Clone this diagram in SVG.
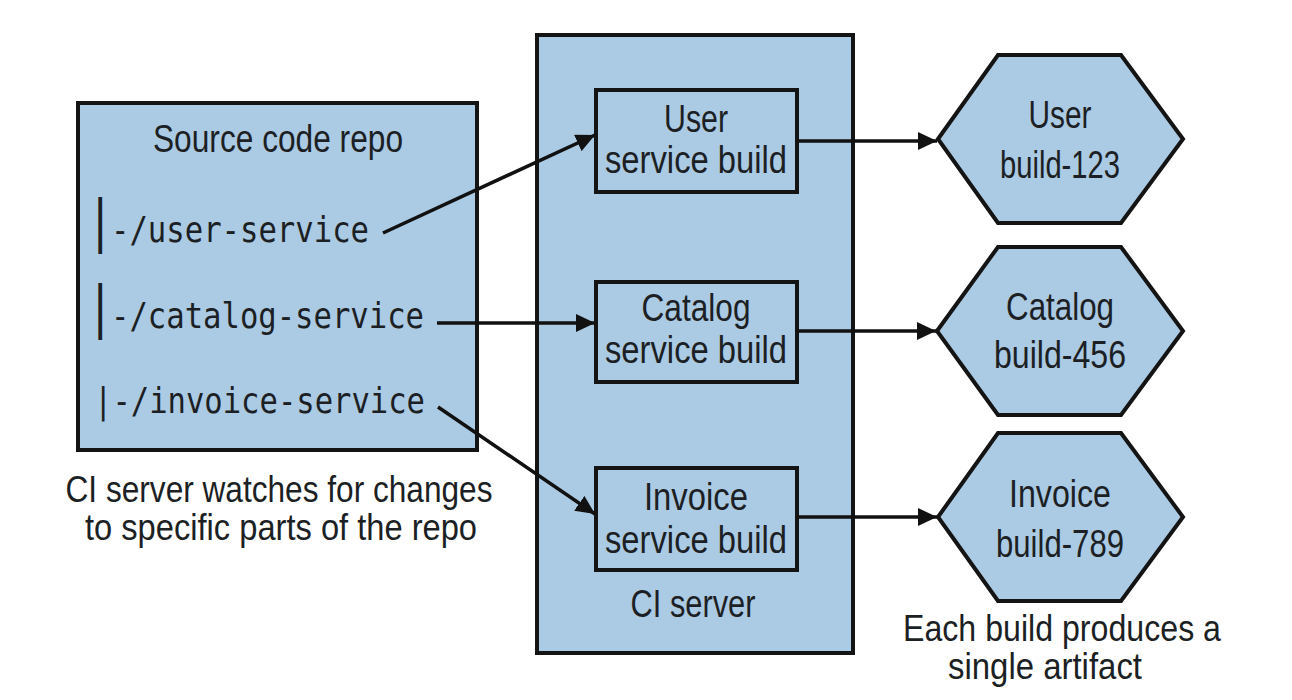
<svg xmlns="http://www.w3.org/2000/svg" width="1292" height="700" viewBox="0 0 1292 700">
<style>
  .box { fill: #abcae3; stroke: #141414; stroke-width: 4; }
  .lbl { font-family: "Liberation Sans", Arial, sans-serif; font-size: 38px; fill: #1c1f24; text-anchor: middle; }
  .cap { font-family: "Liberation Sans", Arial, sans-serif; font-size: 37px; fill: #1c1f24; text-anchor: middle; }
  .mono { font-family: "DejaVu Sans Mono", "Liberation Mono", monospace; font-size: 35px; fill: #1c1f24; }
  .conn { stroke: #111; stroke-width: 3.5; fill: none; marker-end: url(#arrow); }
</style>
<defs>
  <marker id="arrow" markerUnits="userSpaceOnUse" markerWidth="20" markerHeight="18" refX="19" refY="9" orient="auto">
    <path d="M0,0 L19,9 L0,18 z" fill="#111"/>
  </marker>
</defs>
<rect width="1292" height="700" fill="#ffffff"/>

<g id="source-repo">
  <rect class="box" x="78" y="103" width="399" height="347"/>
  <text class="lbl" x="278" y="152" textLength="250" lengthAdjust="spacingAndGlyphs">Source code repo</text>
  <text class="mono" x="86" y="242"><tspan font-size="48">│</tspan><tspan x="111" textLength="258" lengthAdjust="spacingAndGlyphs">-/user-service</tspan></text>
  <text class="mono" x="86" y="328"><tspan font-size="48">│</tspan><tspan x="111" textLength="313" lengthAdjust="spacingAndGlyphs">-/catalog-service</tspan></text>
  <text class="mono" x="94" y="413" textLength="331" lengthAdjust="spacingAndGlyphs">|-/invoice-service</text>
</g>

<g id="repo-caption">
  <text class="cap" x="279" y="502" textLength="427" lengthAdjust="spacingAndGlyphs">CI server watches for changes</text>
  <text class="cap" x="281" y="540" textLength="392" lengthAdjust="spacingAndGlyphs">to specific parts of the repo</text>
</g>

<g id="ci-server">
  <rect class="box" x="537" y="35" width="316" height="618"/>
  <text class="lbl" x="693" y="617" textLength="125" lengthAdjust="spacingAndGlyphs">CI server</text>
</g>

<g id="user-build">
  <rect class="box" x="596" y="90" width="201" height="102"/>
  <text class="lbl" x="696" y="132" textLength="64" lengthAdjust="spacingAndGlyphs">User</text>
  <text class="lbl" x="696" y="173" textLength="182" lengthAdjust="spacingAndGlyphs">service build</text>
</g>

<g id="catalog-build">
  <rect class="box" x="596" y="282" width="201" height="100"/>
  <text class="lbl" x="696" y="321" textLength="109" lengthAdjust="spacingAndGlyphs">Catalog</text>
  <text class="lbl" x="696" y="363" textLength="182" lengthAdjust="spacingAndGlyphs">service build</text>
</g>

<g id="invoice-build">
  <rect class="box" x="596" y="468" width="201" height="102"/>
  <text class="lbl" x="696" y="510" textLength="104" lengthAdjust="spacingAndGlyphs">Invoice</text>
  <text class="lbl" x="696" y="553" textLength="182" lengthAdjust="spacingAndGlyphs">service build</text>
</g>

<g id="user-artifact">
  <polygon class="box" points="938,139 998,55 1121,55 1183,139 1121,223 998,223"/>
  <text class="lbl" x="1060" y="128" textLength="63" lengthAdjust="spacingAndGlyphs">User</text>
  <text class="lbl" x="1060" y="178" textLength="120" lengthAdjust="spacingAndGlyphs">build-123</text>
</g>

<g id="catalog-artifact">
  <polygon class="box" points="937,331 998,247 1121,247 1183,331 1121,415 998,415"/>
  <text class="lbl" x="1060" y="320" textLength="108" lengthAdjust="spacingAndGlyphs">Catalog</text>
  <text class="lbl" x="1060" y="368" textLength="132" lengthAdjust="spacingAndGlyphs">build-456</text>
</g>

<g id="invoice-artifact">
  <polygon class="box" points="938,517 998,433 1121,433 1183,517 1121,601 998,601"/>
  <text class="lbl" x="1060" y="507" textLength="102" lengthAdjust="spacingAndGlyphs">Invoice</text>
  <text class="lbl" x="1060" y="557" textLength="128" lengthAdjust="spacingAndGlyphs">build-789</text>
</g>

<g id="artifact-caption">
  <text class="cap" x="1062" y="641" textLength="318" lengthAdjust="spacingAndGlyphs">Each build produces a</text>
  <text class="cap" x="1045" y="679" textLength="194" lengthAdjust="spacingAndGlyphs">single artifact</text>
</g>

<g id="connectors">
  <line class="conn" x1="383" y1="233" x2="595" y2="135"/>
  <line class="conn" x1="437" y1="323" x2="595" y2="323"/>
  <line class="conn" x1="438" y1="407" x2="595" y2="514"/>
  <line class="conn" x1="797" y1="141" x2="937" y2="141"/>
  <line class="conn" x1="797" y1="331" x2="936" y2="331"/>
  <line class="conn" x1="797" y1="517" x2="937" y2="517"/>
</g>
</svg>
